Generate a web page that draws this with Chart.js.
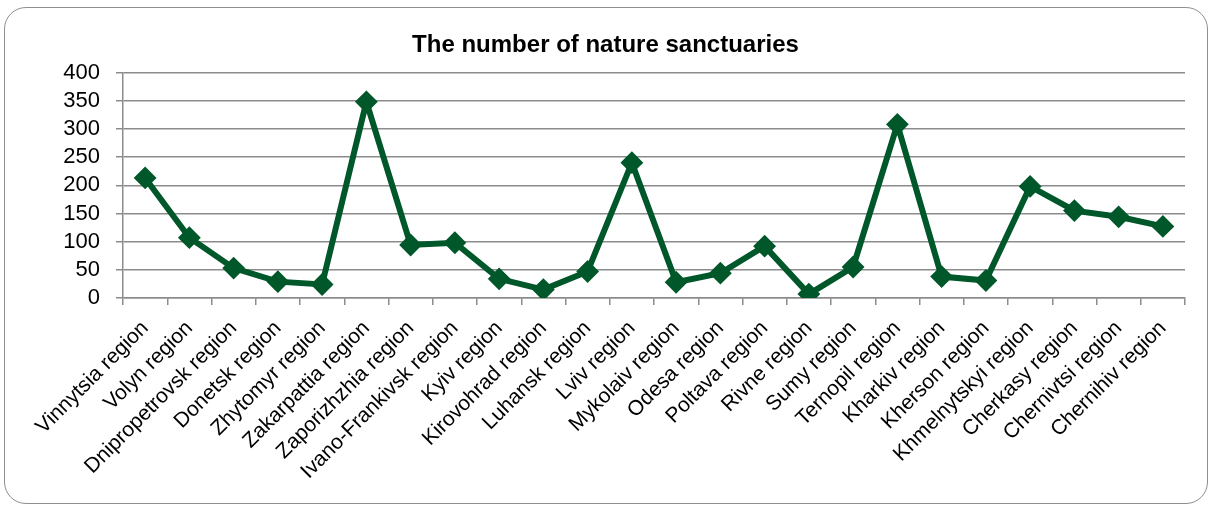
<!DOCTYPE html>
<html lang="en">
<head>
  <meta charset="UTF-8">
  <title>The number of nature sanctuaries</title>
  <script src="https://cdn.jsdelivr.net/npm/chart.js"></script>
  <style>
    html, body {
      margin: 0;
      padding: 0;
      background: #fff;
      overflow: hidden;
    }

    .frame {
      position: absolute;
      left: 4px;
      top: 7px;
      width: 1202px;
      height: 495px;
      border: 1.5px solid #8f8f8f;
      border-radius: 22px;
    }

    .wrap {
      position: absolute;
      left: 0;
      top: 0;
      width: 1211px;
      height: 506px;
    }
  </style>
</head>
<body>
  <div class="frame"></div>
  <div class="wrap">
    <canvas id="sanctChart" width="1211" height="506"></canvas>
  </div>

  <script>
    const regions = [
      'Vinnytsia region', 'Volyn region', 'Dnipropetrovsk region', 'Donetsk region',
      'Zhytomyr region', 'Zakarpattia region', 'Zaporizhzhia region', 'Ivano-Frankivsk region',
      'Kyiv region', 'Kirovohrad region', 'Luhansk region', 'Lviv region',
      'Mykolaiv region', 'Odesa region', 'Poltava region', 'Rivne region',
      'Sumy region', 'Ternopil region', 'Kharkiv region', 'Kherson region',
      'Khmelnytskyi region', 'Cherkasy region', 'Chernivtsi region', 'Chernihiv region'
    ];
    const sanctuaries = [
      213, 107, 53, 29, 24, 348, 94, 98,
      34, 15, 47, 240, 28, 44, 92, 7,
      55, 308, 38, 31, 198, 155, 144, 127
    ];
    const yTicks = [0, 50, 100, 150, 200, 250, 300, 350, 400];

    const fontFamily = '"Liberation Sans Narrow", "Liberation Sans", Arial, sans-serif';
    Chart.defaults.font.family = fontFamily;
    Chart.defaults.color = '#000';

    const green = '#00582a';
    const gridGray = '#8c8c8c';

    const ctx = document.getElementById('sanctChart').getContext('2d');

    new Chart(ctx, {
      type: 'line',
      data: {
        labels: regions,
        datasets: [{
          label: 'The number of nature sanctuaries',
          data: sanctuaries,
          borderColor: green,
          backgroundColor: green,
          borderWidth: 6,
          pointStyle: 'rectRot',
          pointRadius: 10,
          pointBorderWidth: 2,
          pointBackgroundColor: green,
          pointBorderColor: green,
          tension: 0
        }]
      },
      options: {
        responsive: false,
        animation: false,
        layout: {
          padding: 0
        },
        plugins: {
          legend: { display: false },
          tooltip: { enabled: false },
          title: {
            display: true,
            text: 'The number of nature sanctuaries',
            color: '#000',
            font: { size: 24, weight: 'bold', family: fontFamily },
            padding: { top: 31, bottom: 12.7 }
          }
        },
        scales: {
          x: {
            offset: true,
            grid: {
              offset: true,
              drawOnChartArea: false,
              drawTicks: true,
              tickLength: 7,
              color: gridGray,
              lineWidth: 1.5
            },
            border: { color: gridGray, width: 1.5 },
            ticks: {
              autoSkip: false,
              maxRotation: 45,
              minRotation: 45,
              padding: 11,
              font: { size: 21 }
            },
            afterFit: scale => { scale.height = 208; }
          },
          y: {
            min: 0,
            max: 400,
            afterBuildTicks: scale => {
              scale.ticks = yTicks.map(v => ({ value: v }));
            },
            grid: {
              color: gridGray,
              lineWidth: 1.5,
              tickLength: 7
            },
            border: { color: gridGray, width: 1.5 },
            ticks: {
              autoSkip: false,
              padding: 16,
              font: { size: 22 }
            },
            afterFit: scale => { scale.width = 123; }
          },
          // empty right-hand gutter so the plot ends where the original does
          yGap: {
            position: 'right',
            grid: { display: false },
            border: { display: false },
            ticks: { display: false },
            afterFit: scale => { scale.width = 26; }
          }
        }
      }
    });
  </script>
</body>
</html>
